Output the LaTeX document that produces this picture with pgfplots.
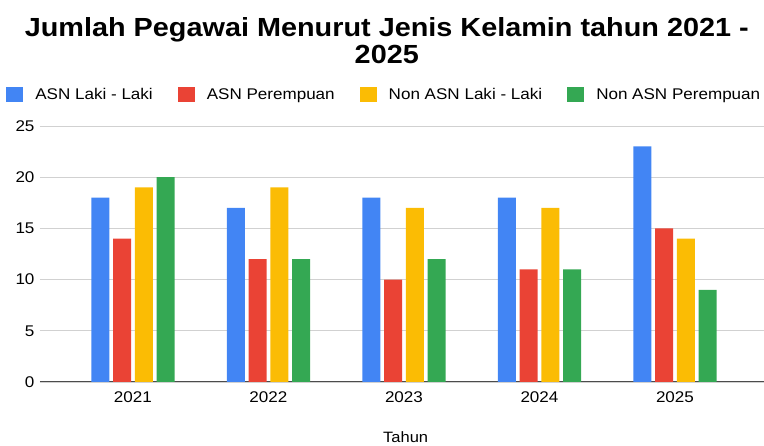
\documentclass[border=0pt]{standalone}
\usepackage{fontspec}
\setmainfont{Liberation Sans}[FakeStretch=1.1]
\usepackage{pgfplots}
\pgfplotsset{compat=1.18}
\definecolor{cblue}{HTML}{4285F4}
\definecolor{cred}{HTML}{EA4335}
\definecolor{cyellow}{HTML}{FBBC04}
\definecolor{cgreen}{HTML}{34A853}
\begin{document}
\begin{tikzpicture}[x=1pt,y=1pt]
\useasboundingbox (-40,-64) rectangle (724,382);
\begin{axis}[
  at={(0,0)}, anchor=south west,
  scale only axis, width=724pt, height=256pt,
  ybar=3.7pt, bar width=18pt,
  xmin=-0.686, xmax=4.657, ymin=0, ymax=25,
  xtick={0,1,2,3,4}, xticklabels={2021,2022,2023,2024,2025},
  ytick={0,5,10,15,20,25},
  ymajorgrids, grid style={draw=black!18, line width=0.8pt},
  axis x line*=bottom, axis y line*=left,
  y axis line style={draw=none},
  x axis line style={draw=black!70, line width=1pt},
  major tick length=0pt,
  tick label style={font=\fontsize{15.5}{18}\selectfont},
  /pgf/number format/assume math mode=true,
  xticklabel style={yshift=-6pt},
  yticklabel style={xshift=-2pt},
  xlabel={Tahun},
  xlabel style={at={(0.505,0)}, anchor=center, yshift=-55pt, font=\fontsize{15}{18}\selectfont},
  title={Jumlah Pegawai Menurut Jenis Kelamin tahun 2021 -\\2025},
  title style={at={(0.479,1)}, anchor=center, yshift=79pt, align=center, font=\bfseries\fontsize{26.2}{27}\selectfont},
  legend style={at={(0.4755,1)}, anchor=center, yshift=31pt, draw=none, fill=none,
    legend columns=4, font=\fontsize{15.5}{18}\selectfont,
    /tikz/every odd column/.append style={column sep=10pt},
    /tikz/every even column/.append style={column sep=23pt}},
  legend image code/.code={\fill[#1] (0pt,-7.5pt) rectangle (17pt,7.5pt);},
]
\addplot[fill=cblue, draw=none] coordinates {(0,18) (1,17) (2,18) (3,18) (4,23)};
\addplot[fill=cred, draw=none] coordinates {(0,14) (1,12) (2,10) (3,11) (4,15)};
\addplot[fill=cyellow, draw=none] coordinates {(0,19) (1,19) (2,17) (3,17) (4,14)};
\addplot[fill=cgreen, draw=none] coordinates {(0,20) (1,12) (2,12) (3,11) (4,9)};
\legend{ASN Laki - Laki, ASN Perempuan, Non ASN Laki - Laki, Non ASN Perempuan}
\end{axis}
\end{tikzpicture}
\end{document}
